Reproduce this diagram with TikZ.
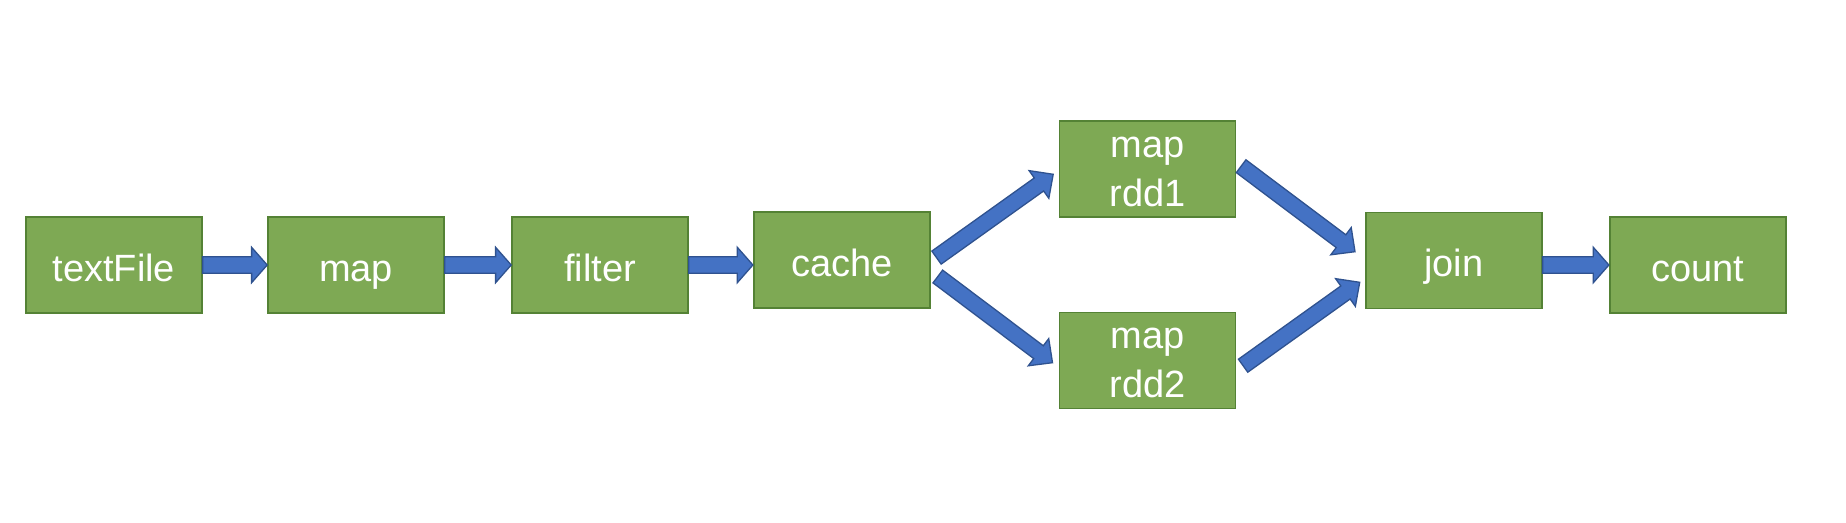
\documentclass[tikz,border=0pt]{standalone}
\usepackage{fontspec}
\setmainfont{Liberation Sans}
\usetikzlibrary{calc}
\definecolor{boxfill}{RGB}{126,169,84}
\definecolor{boxline}{RGB}{84,130,53}
\definecolor{arrfill}{RGB}{68,114,196}
\definecolor{arrline}{RGB}{47,82,143}
% #1 start, #2 tip, #3 shaft half width, #4 head half width, #5 head length
\newcommand{\blockarrow}[5]{%
  \draw[blk] ($(#1)!#3!90:(#2)$)
    -- ($(#2)!#5!(#1)!#3!90:(#2)$)
    -- ($(#2)!#5!(#1)!#4!90:(#2)$)
    -- (#2)
    -- ($(#2)!#5!(#1)!#4!-90:(#2)$)
    -- ($(#2)!#5!(#1)!#3!-90:(#2)$)
    -- ($(#1)!#3!-90:(#2)$) -- cycle;}
\begin{document}
\begin{tikzpicture}[x=1pt,y=-1pt,
  box/.style={draw=boxline, fill=boxfill, line width=1.6pt, minimum width=176pt,
    minimum height=96pt, inner sep=0pt, text=white,
    font=\fontsize{38}{49}\selectfont},
  onebox/.style={box, text height=36pt, text depth=4pt},
  twobox/.style={box, align=center},
  blk/.style={draw=arrline, fill=arrfill, line width=1.3pt, line join=miter}]
\useasboundingbox[fill=white] (0,0) rectangle (1846,522);
\node[onebox] (tf) at (113.8,265) {textFile};
\node[onebox] (mp) at (356,265) {map};
\node[onebox] (flt) at (600,265) {filter};
\node[onebox] (cache) at (841.7,260) {cache};
\node[twobox] (rdd1) at (1147.5,169) {\rule{0pt}{26.4pt}map\\rdd1};
\node[twobox] (rdd2) at (1147.5,360.3) {\rule{0pt}{26.4pt}map\\rdd2};
\node[onebox] (join) at (1453.8,260.5) {join};
\node[onebox] (cnt) at (1697.7,265) {count};
% connectors
\coordinate (c1) at (cache.west |- flt.east);
\coordinate (c2) at (join.east |- cnt.west);
\coordinate (u1) at ($(cache.east)+(6,-2.4)$);
\coordinate (u2) at ($(rdd1.west)+(-5.5,5.3)$);
\coordinate (d1) at ($(cache.east)+(7.3,16.5)$);
\coordinate (d2) at ($(rdd2.west)+(-6.2,2.4)$);
\coordinate (j1) at ($(rdd1.east)+(4.8,-2.8)$);
\coordinate (j2) at ($(join.west)+(-10,-8.8)$);
\coordinate (k1) at ($(rdd2.east)+(6.8,5.4)$);
\coordinate (k2) at ($(join.west)+(-5.3,21.8)$);
\blockarrow{tf.east}{mp.west}{8.3pt}{17.7pt}{15.6pt}
\blockarrow{mp.east}{flt.west}{8.3pt}{17.7pt}{15.6pt}
\blockarrow{flt.east}{c1}{8.3pt}{17.7pt}{15.6pt}
\blockarrow{c2}{cnt.west}{8.3pt}{17.7pt}{15.6pt}
\blockarrow{u1}{u2}{8pt}{17pt}{17.5pt}
\blockarrow{d1}{d2}{8pt}{17pt}{17.5pt}
\blockarrow{j1}{j2}{8pt}{17pt}{17.5pt}
\blockarrow{k1}{k2}{8pt}{17pt}{17.5pt}
\end{tikzpicture}
\end{document}
